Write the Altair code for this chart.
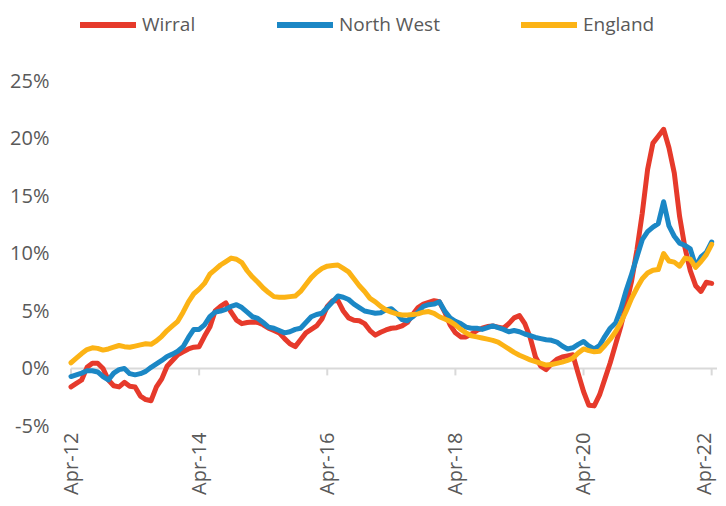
import altair as alt
import pandas as pd

series_names = ["Wirral", "North West", "England"]
series_colors = ["#E63A2B", "#1B87C5", "#FCB315"]

wirral = [-1.6, -1.3, -1.0, 0.1, 0.45, 0.45, 0.0, -1.0, -1.5, -1.6, -1.2, -1.55,
          -1.6, -2.4, -2.7, -2.8, -1.6, -0.9, 0.2, 0.7, 1.2, 1.45, 1.7, 1.85,
          1.9, 2.8, 3.6, 5.0, 5.4, 5.7, 4.9, 4.2, 3.9, 4.0, 4.05, 4.0,
          3.8, 3.5, 3.3, 3.1, 2.6, 2.15, 1.9, 2.5, 3.1, 3.4, 3.7, 4.3,
          5.4, 5.9, 5.9, 5.0, 4.4, 4.2, 4.15, 3.9, 3.3, 2.9, 3.15, 3.35,
          3.5, 3.55, 3.7, 4.0, 4.7, 5.3, 5.6, 5.75, 5.9, 5.8, 4.9, 3.8,
          3.1, 2.75, 2.75, 3.0, 3.3, 3.5, 3.65, 3.7, 3.6, 3.5, 3.9, 4.4,
          4.6, 3.9, 2.7, 1.0, 0.2, -0.1, 0.4, 0.8, 1.0, 1.1, 1.2, -0.45,
          -2.0, -3.2, -3.25, -2.3, -0.9, 0.5, 2.1, 3.7, 5.6, 7.6, 10.3, 13.5,
          17.3, 19.6, 20.2, 20.8, 19.2, 17.0, 13.2, 10.5, 8.5, 7.2, 6.7, 7.5,
          7.4]

north_west = [-0.7, -0.55, -0.4, -0.2, -0.2, -0.3, -0.7, -1.0, -0.4, -0.1, 0.0, -0.45,
              -0.55, -0.45, -0.25, 0.1, 0.4, 0.7, 1.05, 1.25, 1.5, 1.9, 2.7, 3.4,
              3.4, 3.8, 4.5, 4.9, 5.0, 5.15, 5.4, 5.55, 5.3, 4.9, 4.5, 4.35,
              4.0, 3.6, 3.5, 3.3, 3.1, 3.2, 3.4, 3.5, 4.0, 4.5, 4.7, 4.8,
              5.3, 5.8, 6.3, 6.2, 6.0, 5.6, 5.3, 5.0, 4.9, 4.8, 4.85, 5.1,
              5.2, 4.8, 4.25, 4.15, 4.5, 4.9, 5.4, 5.55, 5.6, 5.8, 5.0, 4.4,
              4.1, 3.9, 3.6, 3.5, 3.5, 3.4, 3.55, 3.7, 3.55, 3.4, 3.2, 3.3,
              3.2, 3.0, 2.85, 2.7, 2.6, 2.5, 2.45, 2.3, 1.95, 1.7, 1.8, 2.1,
              2.35, 1.95, 1.7, 2.0, 2.8, 3.5, 3.95, 5.2, 6.8, 8.2, 9.7, 11.2,
              11.9, 12.3, 12.6, 14.5, 12.4, 11.5, 10.9, 10.7, 10.4, 8.9, 9.7, 10.1,
              11.0]

england = [0.5, 0.9, 1.3, 1.65, 1.8, 1.75, 1.6, 1.7, 1.85, 2.0, 1.9, 1.85,
           1.95, 2.05, 2.15, 2.1, 2.4, 2.8, 3.3, 3.7, 4.1, 4.9, 5.8, 6.5,
           6.9, 7.4, 8.2, 8.6, 9.0, 9.3, 9.6, 9.5, 9.2, 8.5, 7.95, 7.5,
           7.0, 6.6, 6.25, 6.2, 6.2, 6.25, 6.3, 6.7, 7.3, 7.9, 8.35, 8.7,
           8.9, 8.95, 9.0, 8.7, 8.4, 7.8, 7.2, 6.7, 6.1, 5.8, 5.4, 5.1,
           4.9, 4.75, 4.65, 4.65, 4.7, 4.75, 4.9, 4.95, 4.8, 4.5, 4.3, 4.1,
           3.8, 3.4, 3.1, 2.85, 2.75, 2.65, 2.55, 2.45, 2.3, 2.0, 1.7, 1.4,
           1.15, 0.95, 0.75, 0.6, 0.45, 0.3, 0.35, 0.45, 0.55, 0.7, 0.9, 1.35,
           1.7, 1.55, 1.45, 1.5, 2.0, 2.55, 3.2, 4.0, 5.0, 6.1, 7.0, 7.8,
           8.3, 8.55, 8.6, 10.0, 9.35, 9.25, 8.9, 9.6, 9.5, 8.8, 9.3, 9.9,
           10.8]

x_tick_months = [0, 24, 48, 72, 96, 120]
x_tick_labels = ["Apr-12", "Apr-14", "Apr-16", "Apr-18", "Apr-20", "Apr-22"]
y_ticks = [-5, 0, 5, 10, 15, 20, 25]

rows = []
for name, vals in zip(series_names, [wirral, north_west, england]):
    for m, v in enumerate(vals):
        rows.append({"month": m, "value": v, "series": name})
df = pd.DataFrame(rows)

W, H = 646, 345
FONT = "Open Sans"
TEXT = "#595959"
AXIS_GREY = "#D9D9D9"

label_expr = ("[" + ",".join(f"'{l}'" for l in x_tick_labels) + "][indexof(["
              + ",".join(str(v) for v in x_tick_months) + "], datum.value)]")

x_enc = alt.X("month:Q",
              scale=alt.Scale(domain=[0, 121], nice=False, zero=False),
              axis=alt.Axis(values=x_tick_months, labelExpr=label_expr, labelAngle=270,
                            domain=False, ticks=False, grid=False, labelPadding=6,
                            labelOffset={"condition": {"test": f"datum.value == {x_tick_months[-1]}",
                                                       "value": -7}, "value": 0},
                            labelFont=FONT, labelFontSize=20, labelColor=TEXT, title=None))
y_enc = alt.Y("value:Q",
              scale=alt.Scale(domain=[-5, 25], nice=False, zero=False),
              axis=alt.Axis(values=y_ticks, labelExpr="datum.value + '%'",
                            domain=False, ticks=False, grid=False, labelPadding=22,
                            labelFont=FONT, labelFontSize=20, labelColor=TEXT, title=None))

legend = alt.Legend(orient="none", legendX=6, legendY=-87, direction="horizontal",
                    symbolType="stroke", symbolSize=3136, symbolStrokeWidth=6,
                    labelFont=FONT, labelFontSize=19, labelColor=TEXT, labelOffset=3,
                    columnPadding=69, padding=0, title=None)
color_enc = alt.Color("series:N", scale=alt.Scale(domain=series_names, range=series_colors),
                      legend=legend)

base = alt.Chart(df)
lines = [
    base.transform_filter(alt.datum.series == name)
        .mark_line(strokeWidth=5, strokeCap="round", strokeJoin="round")
        .encode(x=x_enc, y=y_enc, color=color_enc)
    for name in series_names
]

zero_line = alt.Chart(pd.DataFrame({"v": [0]})).mark_rule(color=AXIS_GREY, strokeWidth=2).encode(
    y=alt.Y("v:Q"), x=alt.value(0), x2=alt.value(W))
tick_marks = alt.Chart(pd.DataFrame({"month": x_tick_months})).mark_rule(
    color=AXIS_GREY, strokeWidth=2).encode(
    x=alt.X("month:Q"), y=alt.datum(0), y2=alt.datum(-0.6))

chart = alt.layer(zero_line, tick_marks, *lines).properties(
    width=W, height=H,
    padding={"left": 63, "top": 73, "right": 1, "bottom": 72},
    autosize=alt.AutoSizeParams(type="none"),
).configure_view(stroke=None)

chart.save("out.html", embed_options={"renderer": "svg", "actions": False})
